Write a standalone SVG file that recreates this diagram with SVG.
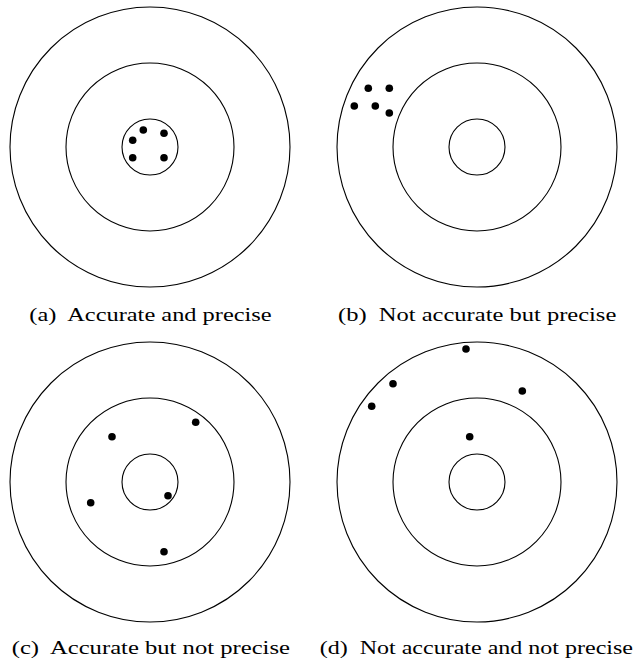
<svg xmlns="http://www.w3.org/2000/svg" width="638" height="662" viewBox="0 0 638 662">
<style>
.ring{fill:none;stroke:#000;stroke-width:1.1}
.hit{fill:#000}
.cap{font-family:"Liberation Serif","Times New Roman",serif;font-size:19px;fill:#000;white-space:pre}
</style>
<rect width="638" height="662" fill="#fff"/>
<g id="target-a">
<circle class="ring" cx="150" cy="147" r="140"/>
<circle class="ring" cx="150" cy="147" r="84"/>
<circle class="ring" cx="150" cy="147" r="28"/>
<circle class="hit" cx="143.3" cy="130" r="3.8"/>
<circle class="hit" cx="164" cy="133.3" r="3.8"/>
<circle class="hit" cx="132.7" cy="140.3" r="3.8"/>
<circle class="hit" cx="132.7" cy="157.7" r="3.8"/>
<circle class="hit" cx="164" cy="157.7" r="3.8"/>
<text class="cap" xml:space="preserve" x="29.3" y="321" textLength="242.4" lengthAdjust="spacingAndGlyphs">(a)  Accurate and precise</text>
</g>
<g id="target-b">
<circle class="ring" cx="477" cy="147" r="140"/>
<circle class="ring" cx="477" cy="147" r="84"/>
<circle class="ring" cx="477" cy="147" r="28"/>
<circle class="hit" cx="368.3" cy="88.3" r="3.8"/>
<circle class="hit" cx="389.3" cy="88.3" r="3.8"/>
<circle class="hit" cx="354.3" cy="106" r="3.8"/>
<circle class="hit" cx="375.3" cy="106" r="3.8"/>
<circle class="hit" cx="389.3" cy="113" r="3.8"/>
<text class="cap" xml:space="preserve" x="338" y="321" textLength="278.3" lengthAdjust="spacingAndGlyphs">(b)  Not accurate but precise</text>
</g>
<g id="target-c">
<circle class="ring" cx="150" cy="482" r="140"/>
<circle class="ring" cx="150" cy="482" r="84"/>
<circle class="ring" cx="150" cy="482" r="28"/>
<circle class="hit" cx="195.7" cy="422.3" r="3.8"/>
<circle class="hit" cx="112" cy="436.7" r="3.8"/>
<circle class="hit" cx="168" cy="495.7" r="3.8"/>
<circle class="hit" cx="90.7" cy="502.7" r="3.8"/>
<circle class="hit" cx="164" cy="551.7" r="3.8"/>
<text class="cap" xml:space="preserve" x="11.7" y="653.5" textLength="278.3" lengthAdjust="spacingAndGlyphs">(c)  Accurate but not precise</text>
</g>
<g id="target-d">
<circle class="ring" cx="477" cy="482" r="140"/>
<circle class="ring" cx="477" cy="482" r="84"/>
<circle class="ring" cx="477" cy="482" r="28"/>
<circle class="hit" cx="466" cy="349" r="3.8"/>
<circle class="hit" cx="393" cy="383.7" r="3.8"/>
<circle class="hit" cx="522.3" cy="391" r="3.8"/>
<circle class="hit" cx="371.7" cy="406.3" r="3.8"/>
<circle class="hit" cx="469.7" cy="436.7" r="3.8"/>
<text class="cap" xml:space="preserve" x="319.7" y="653.5" textLength="313.3" lengthAdjust="spacingAndGlyphs">(d)  Not accurate and not precise</text>
</g>
<g id="connectors"></g>
</svg>
